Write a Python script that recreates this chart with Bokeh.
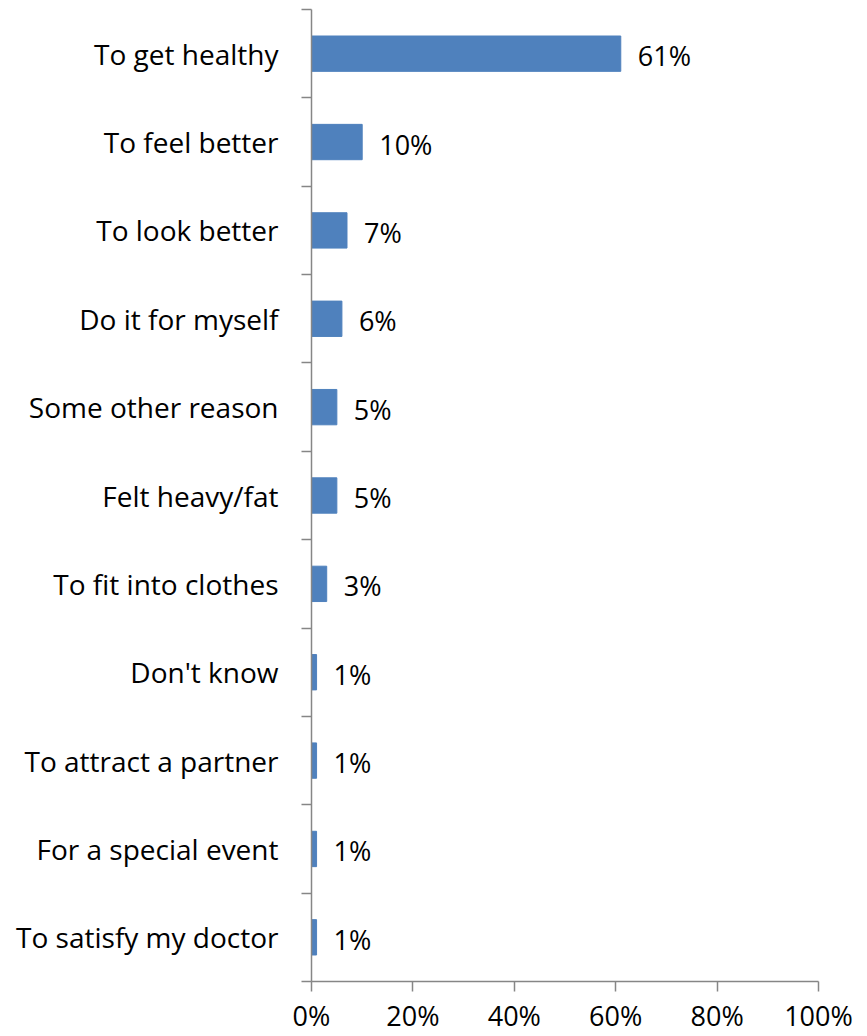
from bokeh.plotting import figure
from bokeh.models import Range1d, FixedTicker, ColumnDataSource
from bokeh.core.properties import value
from bokeh.embed import file_html
from bokeh.resources import INLINE

categories = ["To get healthy", "To feel better", "To look better", "Do it for myself",
              "Some other reason", "Felt heavy/fat", "To fit into clothes", "Don't know",
              "To attract a partner", "For a special event", "To satisfy my doctor"]
values = [61, 10, 7, 6, 5, 5, 3, 1, 1, 1, 1]
x_ticks = [0, 20, 40, 60, 80, 100]
x_tick_labels = ["0%", "20%", "40%", "60%", "80%", "100%"]

n = len(categories)
pos = [n - 1 - i for i in range(n)]
source = ColumnDataSource(dict(cat=categories, val=values, y=pos,
                               label=[f"{v}%" for v in values]))

FONT = "Open Sans"
AXIS_COLOR = "#868686"

p = figure(width=867, height=1036, x_range=Range1d(0, 100), y_range=Range1d(-0.5, n - 0.5),
           output_backend="svg", toolbar_location=None,
           min_border_left=311, min_border_right=49, min_border_top=9, min_border_bottom=54)
p.outline_line_color = None
p.grid.visible = False
p.background_fill_color = "white"
p.border_fill_color = "white"

p.hbar(y="y", left=0, right="val", height=0.4, color="#4F81BD", source=source)
p.text(x="val", y="y", text="label", x_offset=17, y_offset=2, text_baseline="middle",
       text_align="left", text_font=value(FONT), text_font_size="27px", text_color="black",
       source=source)

ya = p.yaxis[0]
ya.ticker = FixedTicker(ticks=pos, minor_ticks=[k - 0.5 for k in range(n + 1)])
ya.major_label_overrides = {y: c for y, c in zip(pos, categories)}
ya.axis_line_color = AXIS_COLOR
ya.axis_line_width = 1.5
ya.major_tick_out = 0
ya.major_tick_in = 0
ya.minor_tick_out = 10
ya.minor_tick_in = 0
ya.minor_tick_line_color = AXIS_COLOR
ya.minor_tick_line_width = 1.5
ya.major_label_standoff = 23
ya.major_label_text_font = FONT
ya.major_label_text_font_size = "28px"
ya.major_label_text_color = "black"

xa = p.xaxis[0]
xa.ticker = FixedTicker(ticks=x_ticks, minor_ticks=[])
xa.major_label_overrides = {t: l for t, l in zip(x_ticks, x_tick_labels)}
xa.axis_line_color = AXIS_COLOR
xa.axis_line_width = 1.5
xa.major_tick_out = 10
xa.major_tick_in = 0
xa.major_tick_line_color = AXIS_COLOR
xa.major_tick_line_width = 1.5
xa.minor_tick_line_color = None
xa.major_label_standoff = 5
xa.major_label_text_font = FONT
xa.major_label_text_font_size = "27px"
xa.major_label_text_color = "black"

open("out.html", "w").write(file_html(p, INLINE))
